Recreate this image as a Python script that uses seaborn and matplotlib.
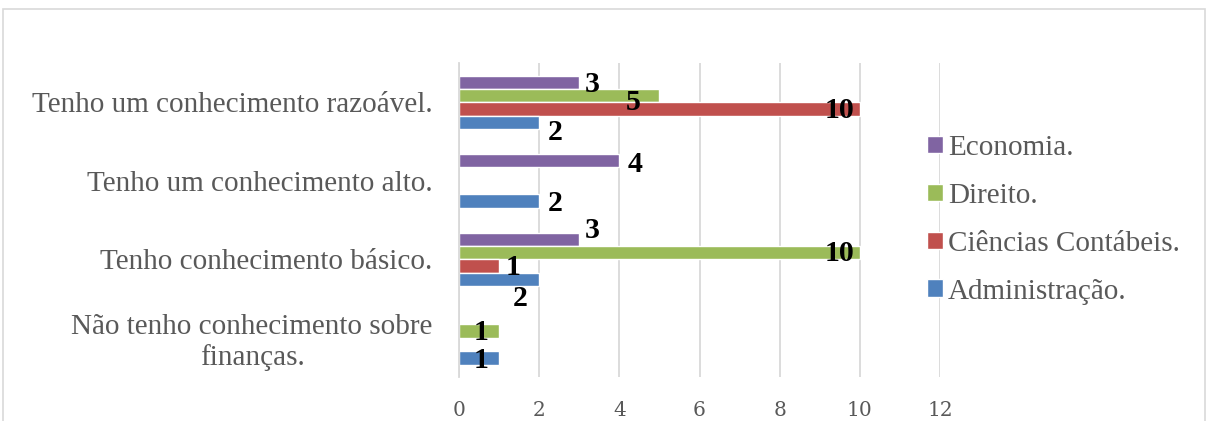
import matplotlib
matplotlib.use("Agg")
import matplotlib.pyplot as plt
import seaborn as sns
import pandas as pd
import numpy as np
from matplotlib.patches import Rectangle

# Survey answers (top to bottom) and course groups
categories = [
    "Tenho um conhecimento razoável.",
    "Tenho um conhecimento alto.",
    "Tenho conhecimento básico.",
    "Não tenho conhecimento sobre\nfinanças.",
]
courses = ["Economia.", "Direito.", "Ciências Contábeis.", "Administração."]

economia = [3, 4, 3, None]
direito = [5, None, 10, 1]
contabeis = [10, None, 1, None]
administracao = [2, 2, 2, 1]

xticks = [0, 2, 4, 6, 8, 10, 12]

colors = {
    "Economia.": "#8064A2",
    "Direito.": "#9BBB59",
    "Ciências Contábeis.": "#C0504D",
    "Administração.": "#4F81BD",
}

# Pixel nudges for value labels, keyed by (course, answer index)
label_nudge = {
    ("Economia.", 0): (13, -2), ("Direito.", 0): (-26, -7),
    ("Ciências Contábeis.", 0): (-20, -1), ("Administração.", 0): (16, -10),
    ("Economia.", 1): (16, -4), ("Administração.", 1): (16, -3),
    ("Economia.", 2): (13, 9), ("Direito.", 2): (-20, -1),
    ("Ciências Contábeis.", 2): (14, -1), ("Administração.", 2): (-19, -19),
    ("Direito.", 3): (-18, -1), ("Administração.", 3): (-18, -3),
}

rows = []
for course, vals in zip(courses, [economia, direito, contabeis, administracao]):
    for cat, v in zip(categories, vals):
        if v is not None:
            rows.append({"Resposta": cat, "Curso": course, "Valor": v})
df = pd.DataFrame(rows)

sns.set_style("white")
plt.rcParams["font.family"] = ["Liberation Serif", "DejaVu Serif"]

fig = plt.figure(figsize=(12.09, 4.21), dpi=100)
ax = fig.add_axes([0.3797, 0.1045, 0.7775 - 0.3797, 0.850 - 0.1045])

sns.barplot(
    data=df, y="Resposta", x="Valor", hue="Curso",
    order=categories, hue_order=courses, palette=colors,
    orient="h", width=0.683, saturation=1, ax=ax, legend=True,
    errorbar=None,
)

for course, container in zip(courses, ax.containers):
    for bar in container:
        w = bar.get_width()
        if not np.isfinite(w):
            continue
        yc = bar.get_y() + bar.get_height() / 2
        idx = int(round(yc))
        dx, dy = label_nudge.get((course, idx), (10, 0))
        ax.annotate(
            f"{w:g}", xy=(w, yc), xytext=(dx, dy), textcoords="offset pixels",
            ha="center", va="center", fontsize=21.5, fontweight="bold", color="black",
        )

ax.set_xlim(0, 12)
ax.set_xticks(xticks)
ax.set_xticklabels([str(t) for t in xticks], family="DejaVu Serif")
ax.xaxis.grid(True, color="#D9D9D9", linewidth=1.3)
ax.yaxis.grid(False)
ax.set_axisbelow(True)
for s in ["top", "right", "bottom"]:
    ax.spines[s].set_visible(False)
ax.spines["left"].set_color("#D9D9D9")
ax.spines["left"].set_linewidth(1.3)
ax.set_xlabel("")
ax.set_ylabel("")
ax.tick_params(axis="x", length=0, pad=17, labelsize=14.5, labelcolor="#595959")
ax.tick_params(axis="y", length=0, pad=19, labelsize=21, labelcolor="#595959")
for lab in ax.get_yticklabels():
    lab.set_multialignment("center")

leg = ax.legend(
    loc="center left", bbox_to_anchor=(0.767, 0.478), bbox_transform=fig.transFigure,
    frameon=False, fontsize=21, handlelength=0.55, handleheight=0.55,
    handletextpad=0.15, labelspacing=0.75, borderpad=0, borderaxespad=0,
)
for t in leg.get_texts():
    t.set_color("#595959")

fig.patches.append(Rectangle(
    (3 / 1209, -0.02), (1205 - 3) / 1209, 0.9786 + 0.02,
    transform=fig.transFigure, fill=False, edgecolor="#D9D9D9", linewidth=1.2,
))

fig.savefig("out.png", dpi=100)
